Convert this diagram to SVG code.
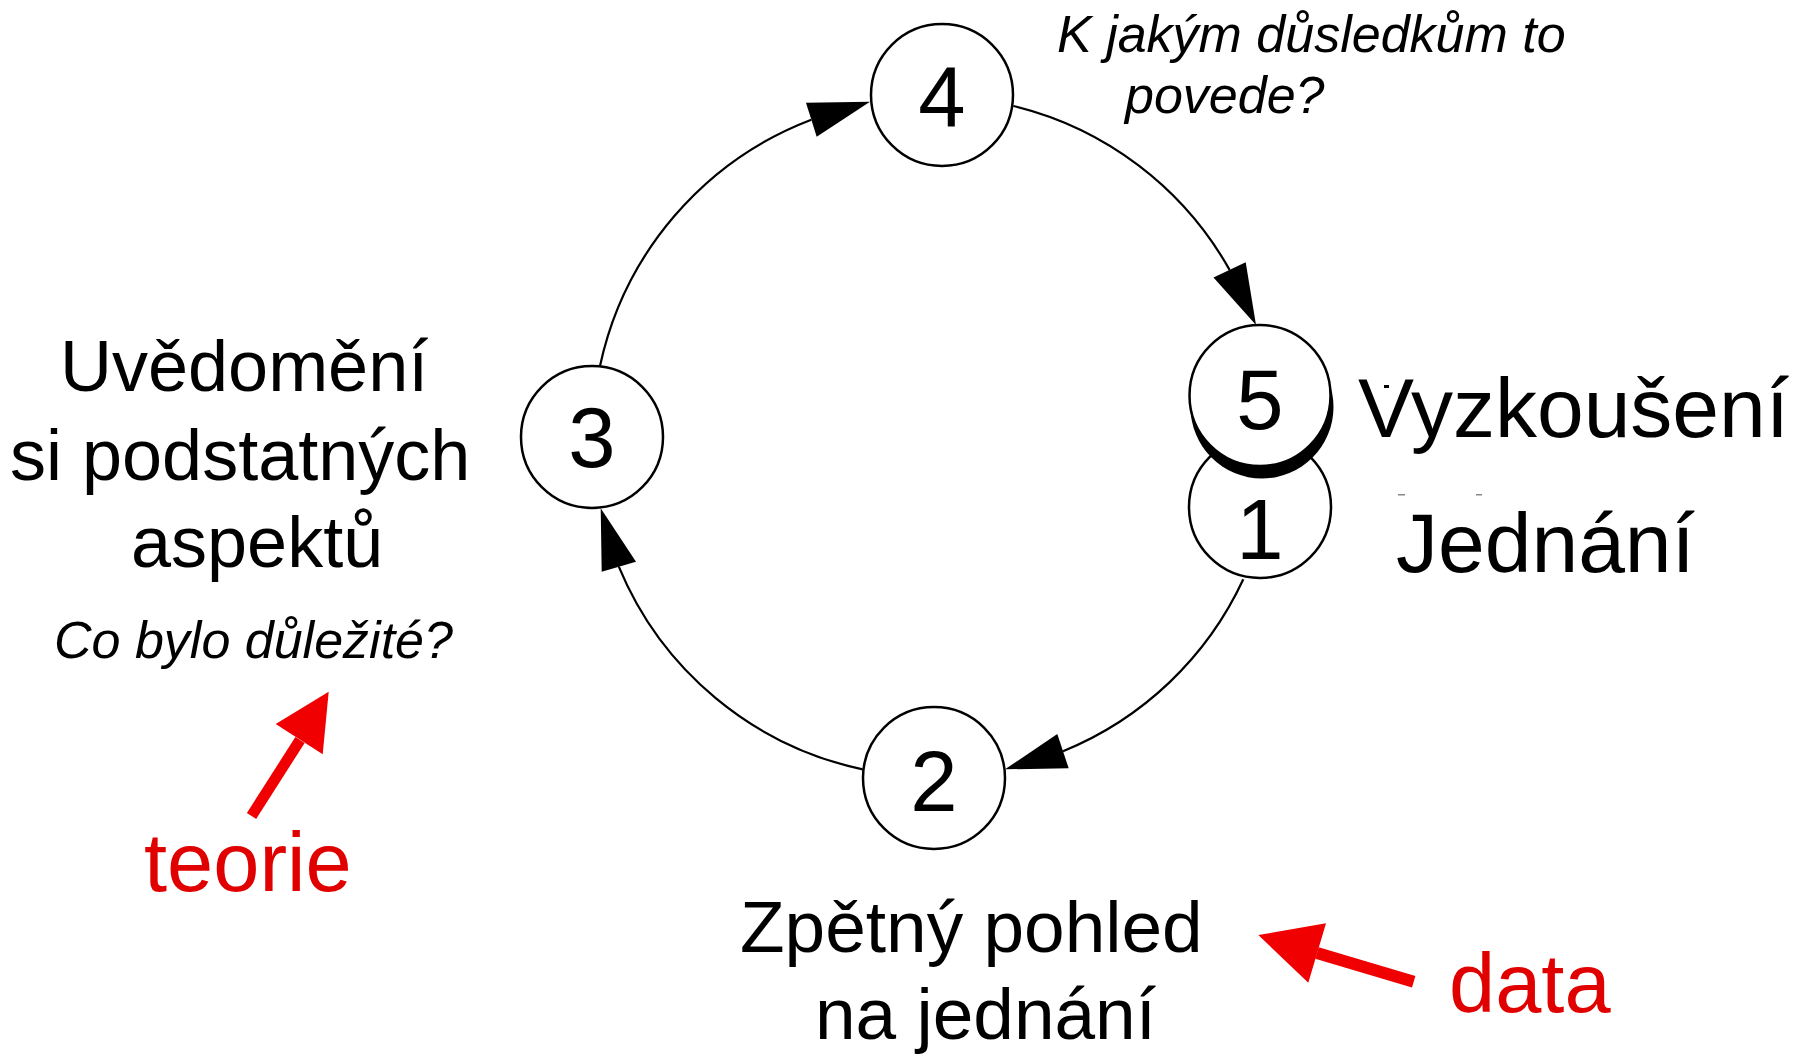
<svg xmlns="http://www.w3.org/2000/svg" width="1802" height="1054" viewBox="0 0 1802 1054">
<style>
text{font-family:"Liberation Sans",Arial,Helvetica,sans-serif;fill:#000}
.node{fill:#fff;stroke:#000;stroke-width:2.5}
.num{font-size:85px;text-anchor:middle}
.lbl{font-size:72px}
.big{font-size:84px}
.q{font-size:52px;font-style:italic}
.red{fill:#e00000;font-size:83px}
.arc{fill:none;stroke:#000;stroke-width:2.2}
.head{fill:#000}
.rarrow{stroke:#f00000;stroke-width:11;fill:none}
.rhead{fill:#f00000}
</style>
<rect width="1802" height="1054" fill="#fff"/>
<g id="connectors">
<path class="arc" d="M 600 366 A 340 340 0 0 1 811.3 119.7"/>
<polygon class="head" points="870,101.7 806,102.7 816.7,136.7"/>
<path class="arc" d="M 1013.3 106 A 340 340 0 0 1 1229.6 269.9"/>
<polygon class="head" points="1256,325 1245.7,262.2 1213.5,277.6"/>
<path class="arc" d="M 1243.3 579.3 A 340 340 0 0 1 1063 751.2"/>
<polygon class="head" points="1005,769.3 1057.3,734 1068.7,768.3"/>
<path class="arc" d="M 862.7 769.3 A 340 340 0 0 1 618.8 566.7"/>
<polygon class="head" points="600.7,508.3 601.7,571.7 636,561.7"/>
</g>
<g id="node1">
<circle class="node" cx="1260" cy="507" r="71"/>
<text class="num" x="1260" y="559">1</text>
</g>
<g id="node5">
<circle cx="1262" cy="407" r="71.5" fill="#000"/>
<circle class="node" cx="1260" cy="395.5" r="70.5"/>
<text class="num" x="1260" y="429">5</text>
</g>
<g id="node4">
<circle class="node" cx="942" cy="95" r="71"/>
<text class="num" x="942" y="126">4</text>
</g>
<g id="node3">
<circle class="node" cx="592" cy="437" r="71"/>
<text class="num" x="592" y="467">3</text>
</g>
<g id="node2">
<circle class="node" cx="934" cy="778" r="71"/>
<text class="num" x="934" y="811">2</text>
</g>
<g id="labels">
<text class="q" x="1057" y="52">K jakým důsledkům to</text>
<text class="q" x="1125" y="113">povede?</text>
<text class="big" x="1358" y="437">Vyzkoušení</text>
<rect x="1384" y="385" width="5" height="3" fill="#000"/>
<rect x="1398" y="494" width="7" height="1.5" fill="#888"/>
<rect x="1476" y="494" width="6" height="1.5" fill="#888"/>
<text class="big" x="1396" y="572">Jednání</text>
<text class="lbl" x="60" y="391">Uvědomění</text>
<text class="lbl" x="10" y="480">si podstatných</text>
<text class="lbl" x="131" y="567">aspektů</text>
<text class="q" x="54" y="658">Co bylo důležité?</text>
<text class="lbl" x="740" y="952" style="font-size:73px">Zpětný pohled</text>
<text class="lbl" x="815" y="1039" style="font-size:73px">na jednání</text>
</g>
<g id="annotations">
<line class="rarrow" x1="251.5" y1="816" x2="300" y2="740"/>
<polygon class="rhead" points="328.7,691.7 275.7,724 322.7,754.3"/>
<text class="red" x="144" y="891">teorie</text>
<line class="rarrow" x1="1413.7" y1="981.7" x2="1317" y2="953" style="stroke-width:12"/>
<polygon class="rhead" points="1258.3,935 1326,923.3 1308.3,982.7"/>
<text class="red" x="1449" y="1012">data</text>
</g>
</svg>
